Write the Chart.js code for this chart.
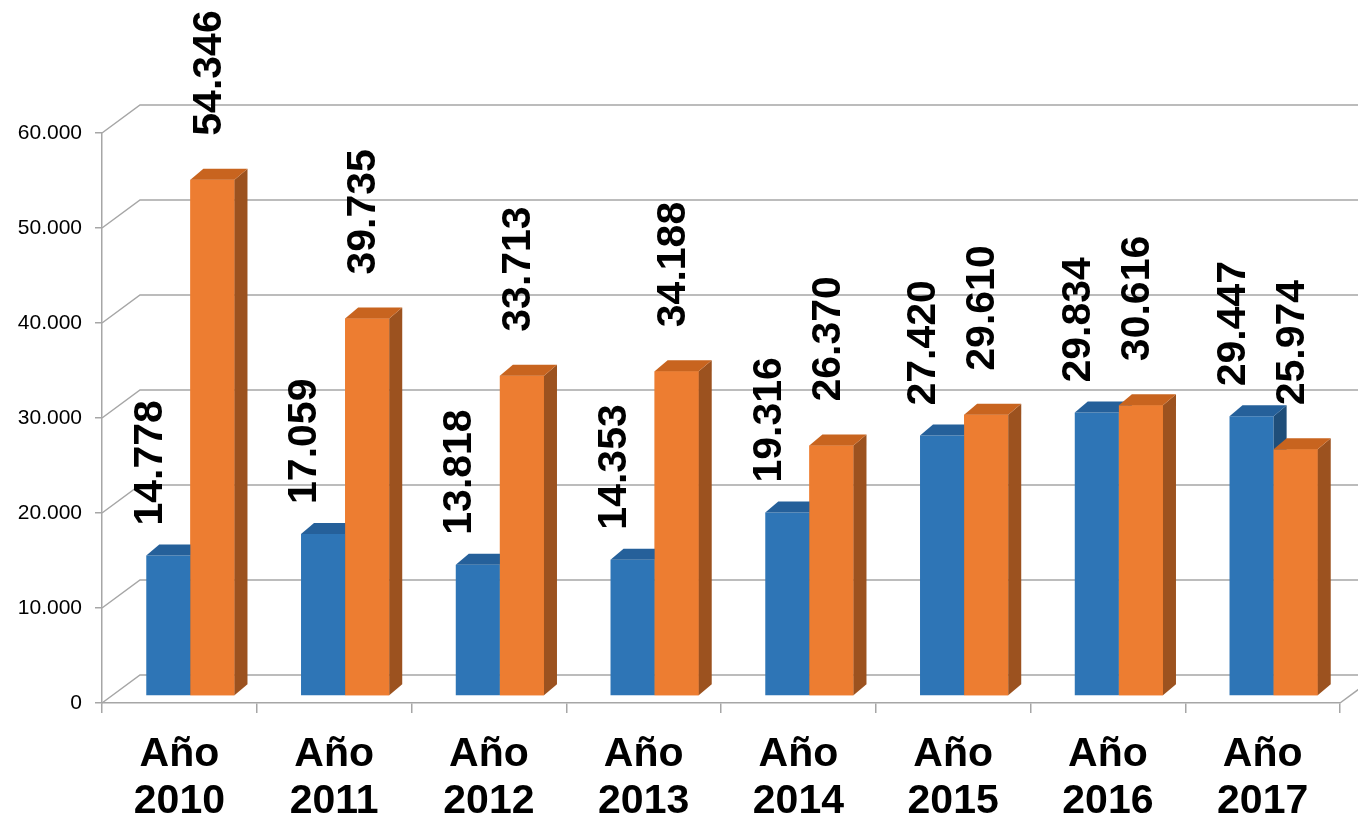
<!DOCTYPE html>
<html lang="es">
<head>
    <meta charset="UTF-8">
    <title>Año 2010 - 2017</title>
    <script src="https://cdn.jsdelivr.net/npm/chart.js"></script>
    <style>
        html, body { margin: 0; padding: 0; background: #fff; }
        .chart-container { width: 1358px; height: 824px; }
    </style>
</head>
<body>
    <div class="chart-container">
        <canvas id="barChart"></canvas>
    </div>

    <script>
        // chart values
        const years = ['2010', '2011', '2012', '2013', '2014', '2015', '2016', '2017'];
        const serieAzul = [14778, 17059, 13818, 14353, 19316, 27420, 29834, 29447];
        const serieNaranja = [54346, 39735, 33713, 34188, 26370, 29610, 30616, 25974];
        const yMin = 0, yMax = 60000, yStep = 10000;

        const categories = years.map(y => ['Año', y]);

        // 3D look
        const SHIFT_X = 11, SHIFT_Y = -7;     // bars sit a bit behind the front plane
        const DEPTH_X = 13, DEPTH_Y = -11;    // bar depth
        const BACK_X = 38, BACK_Y = -28;      // back wall
        const GRID = '#A6A6A6';
        const faces = [
            { top: '#25609A', side: '#1F4E79' },
            { top: '#C8641F', side: '#9C521F' }
        ];
        const labelDx = [-18, -3];
        const labelGap = [30, 44];

        const fmt = v => String(v).replace(/\B(?=(\d{3})+(?!\d))/g, '.');

        const backWall = {
            id: 'backWall',
            beforeDatasetsDraw(chart) {
                const ctx = chart.ctx, area = chart.chartArea, ys = chart.scales.y;
                ctx.save();
                ctx.strokeStyle = GRID;
                ctx.lineWidth = 1.5;
                ys.ticks.forEach(t => {
                    const y = ys.getPixelForValue(t.value);
                    ctx.beginPath();
                    ctx.moveTo(area.left, y);
                    ctx.lineTo(area.left + BACK_X, y + BACK_Y);
                    ctx.lineTo(chart.width + 50, y + BACK_Y);
                    ctx.stroke();
                });
                ctx.beginPath();
                ctx.moveTo(area.right, area.bottom);
                ctx.lineTo(area.right + BACK_X, area.bottom + BACK_Y);
                ctx.stroke();
                ctx.restore();
            }
        };

        function drawFaces(ctx, el, f) {
            const p = el.getProps(['x', 'y', 'base', 'width'], true);
            const l = p.x - p.width / 2, r = p.x + p.width / 2;
            ctx.fillStyle = f.side;
            ctx.beginPath();
            ctx.moveTo(r, p.y);
            ctx.lineTo(r + DEPTH_X, p.y + DEPTH_Y);
            ctx.lineTo(r + DEPTH_X, p.base + DEPTH_Y);
            ctx.lineTo(r, p.base);
            ctx.closePath();
            ctx.fill();
            ctx.fillStyle = f.top;
            ctx.beginPath();
            ctx.moveTo(l, p.y);
            ctx.lineTo(l + DEPTH_X, p.y + DEPTH_Y);
            ctx.lineTo(r + DEPTH_X, p.y + DEPTH_Y);
            ctx.lineTo(r, p.y);
            ctx.closePath();
            ctx.fill();
        }

        const bars3d = {
            id: 'bars3d',
            beforeDatasetsDraw(chart) {
                chart.ctx.save();
                chart.ctx.translate(SHIFT_X, SHIFT_Y);
            },
            afterDatasetsDraw(chart) {
                const ctx = chart.ctx;
                // blue first, then the orange bar in front of its side face
                chart.getDatasetMeta(0).data.forEach(el => drawFaces(ctx, el, faces[0]));
                chart.getDatasetMeta(1).data.forEach(el => {
                    el.draw(ctx);
                    drawFaces(ctx, el, faces[1]);
                });
                ctx.restore();

                ctx.save();
                ctx.font = 'bold 41px Arial, "Liberation Sans", sans-serif';
                ctx.fillStyle = '#000';
                ctx.textAlign = 'left';
                ctx.textBaseline = 'middle';
                chart.data.datasets.forEach((ds, i) => {
                    chart.getDatasetMeta(i).data.forEach((el, j) => {
                        const p = el.getProps(['x', 'y'], true);
                        ctx.save();
                        ctx.translate(p.x + SHIFT_X + labelDx[i], p.y + SHIFT_Y - labelGap[i]);
                        ctx.rotate(-Math.PI / 2);
                        ctx.fillText(fmt(ds.data[j]), 0, 0);
                        ctx.restore();
                    });
                });
                ctx.restore();
            }
        };

        new Chart(document.getElementById('barChart'), {
            type: 'bar',
            data: {
                labels: categories,
                datasets: [
                    { label: 'Serie 1', data: serieAzul, backgroundColor: '#2E75B6', clip: false },
                    { label: 'Serie 2', data: serieNaranja, backgroundColor: '#ED7D31', clip: false }
                ]
            },
            options: {
                responsive: true,
                maintainAspectRatio: false,
                animation: false,
                datasets: { bar: { barPercentage: 1, categoryPercentage: 0.57 } },
                layout: { padding: { top: 133, right: 18, bottom: 0, left: 0 } },
                plugins: {
                    legend: { display: false },
                    tooltip: { enabled: false }
                },
                scales: {
                    x: {
                        afterFit: s => { s.height = 121; },
                        grid: { drawOnChartArea: false, tickLength: 10, color: GRID, lineWidth: 1.5 },
                        border: { color: GRID, width: 1.5 },
                        ticks: {
                            autoSkip: false,
                            maxRotation: 0,
                            padding: 18,
                            color: '#000',
                            font: { family: 'Arial, "Liberation Sans", sans-serif', size: 41, weight: 'bold', lineHeight: 1.15 }
                        }
                    },
                    y: {
                        min: yMin,
                        max: yMax,
                        afterFit: s => { s.width = 102; },
                        grid: { drawOnChartArea: false, tickLength: 7, color: GRID, lineWidth: 1.5 },
                        border: { color: GRID, width: 1.5 },
                        ticks: {
                            stepSize: yStep,
                            padding: 13,
                            color: '#000',
                            font: { family: 'Arial, "Liberation Sans", sans-serif', size: 21 },
                            callback: v => fmt(v)
                        }
                    }
                }
            },
            plugins: [backWall, bars3d]
        });
    </script>
</body>
</html>
